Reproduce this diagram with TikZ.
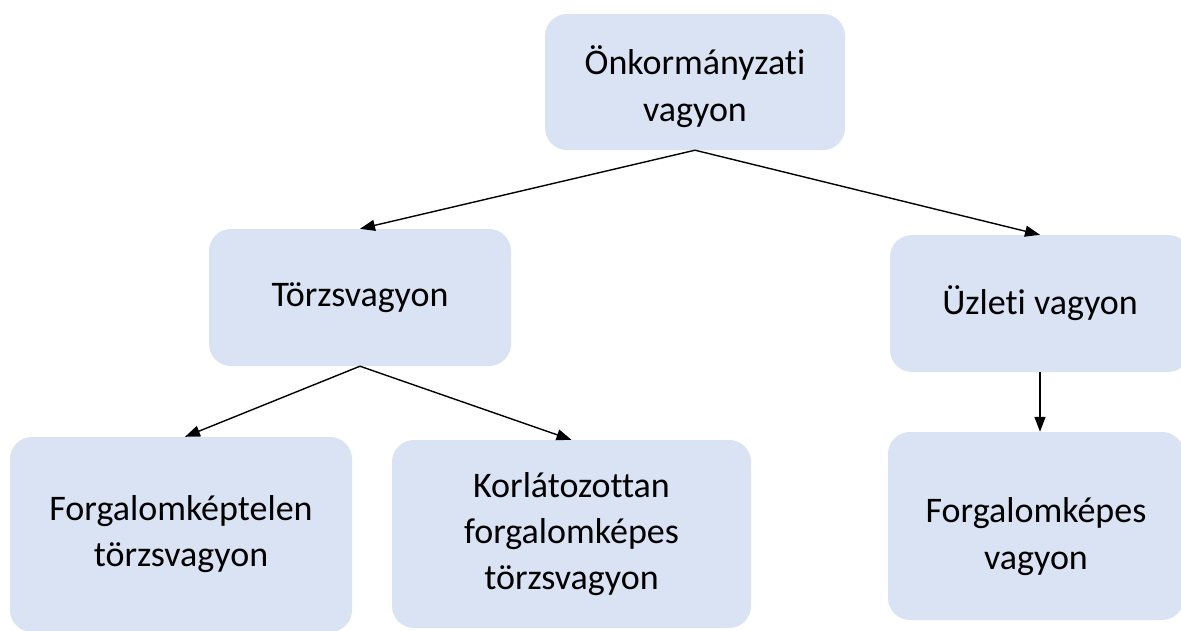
\documentclass[tikz,border=0pt]{standalone}
\usepackage{fontspec}
\setmainfont{Carlito}[Ligatures=NoCommon]
\usetikzlibrary{arrows.meta}
\definecolor{boxfill}{HTML}{DAE3F3}
\begin{document}
\begin{tikzpicture}[x=1pt,y=-1pt,
  box/.style={rectangle, rounded corners=22pt, fill=boxfill, draw=none, inner sep=0pt,
    align=center, font=\fontsize{36}{46}\selectfont},
  txt/.style={align=center, inner sep=0pt, font=\fontsize{36}{47}\selectfont},
  conn/.style={draw=black, line width=1.4pt, -{Triangle[length=15pt,width=11pt]}}]
\useasboundingbox (0,0) rectangle (1181,630);
\fill[white] (0,0) rectangle (1181,630);
\node[box, minimum width=300pt, minimum height=136pt] (top) at (695,82) {};
\node[txt] (topt) at ([yshift=-5pt]top.center) {Önkormányzati\\vagyon};
\node[box, minimum width=302pt, minimum height=137pt] (torzs) at (360,297.5) {Törzsvagyon};
\node[box, minimum width=300pt, minimum height=137pt] (uzleti) at (1040,303.5) {Üzleti vagyon};
\node[box, minimum width=342pt, minimum height=195pt] (ftk) at (181,534.5) {Forgalomképtelen\\törzsvagyon};
\node[box, minimum width=359pt, minimum height=188pt] (korl) at (571.5,534) {Korlátozottan\\forgalomképes\\törzsvagyon};
\node[box, minimum width=296pt, minimum height=188pt] (fk) at (1036,526) {};
\node[txt] (fkt) at ([yshift=-11pt]fk.center) {Forgalomképes\\vagyon};
\draw[conn] (top.south) -- (torzs.north);
\draw[conn] (top.south) -- (uzleti.north);
\draw[conn] (torzs.south) -- ([xshift=4pt]ftk.north);
\draw[conn] (torzs.south) -- (korl.north);
\draw[conn] (uzleti.south) -- (uzleti.south |- fk.north);
\end{tikzpicture}
\end{document}
